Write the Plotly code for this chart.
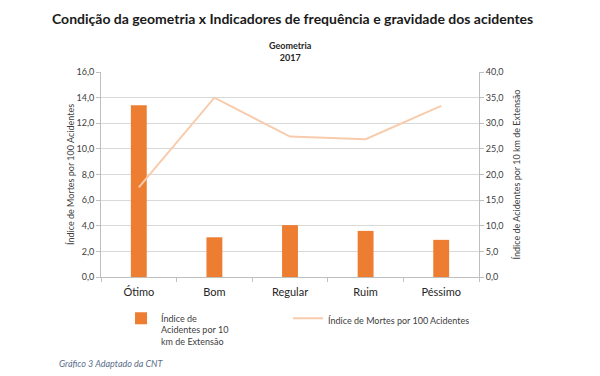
import plotly.graph_objects as go

categories = ["Ótimo", "Bom", "Regular", "Ruim", "Péssimo"]
bar_values = [13.4, 3.1, 4.05, 3.6, 2.9]
line_values = [17.5, 35.0, 27.4, 26.9, 33.4]

bar_name = "Índice de<br>Acidentes por 10<br>km de Extensão"
line_name = "Índice de Mortes por 100 Acidentes"
left_title = "Índice de Mortes por 100 Acidentes"
right_title = "Índice de Acidentes por 10 km de Extensão"

FONT = "Lato"
tick_col = "#404040"

fig = go.Figure()
fig.add_trace(go.Bar(x=categories, y=bar_values, name=bar_name,
                     marker=dict(color="#ED7D31", line=dict(width=0)),
                     yaxis="y", legend="legend"))
fig.add_trace(go.Scatter(x=categories, y=line_values, name=line_name,
                         mode="lines", line=dict(color="#F8CBAD", width=2),
                         yaxis="y2", legend="legend2"))

fig.update_layout(
    width=592, height=368,
    margin=dict(l=93, r=121, t=64, b=99, autoexpand=False),
    paper_bgcolor="white", plot_bgcolor="white",
    separators=",.",
    bargap=0.79,
    font=dict(family=FONT, size=9, color=tick_col),
    xaxis=dict(showline=True, linecolor="#BFBFBF", linewidth=1,
               ticks="outside", ticklen=4, tickcolor="#BFBFBF",
               tickson="boundaries", ticklabelstandoff=5,
               tickfont=dict(size=11, color="#262626")),
    yaxis=dict(range=[0, 16], dtick=2, tickformat=".1f",
               showline=True, linecolor="#BFBFBF", linewidth=1,
               ticks="outside", ticklen=4, tickcolor="#BFBFBF",
               gridcolor="#D9D9D9", gridwidth=1, zeroline=False,
               tickfont=dict(size=9, color=tick_col),
               title=dict(text=left_title, font=dict(size=9, color=tick_col), standoff=0)),
    yaxis2=dict(range=[0, 40], dtick=5, tickformat=".1f", overlaying="y", side="right",
                showline=True, linecolor="#BFBFBF", linewidth=1,
                ticks="outside", ticklen=4, tickcolor="#BFBFBF",
                showgrid=False, zeroline=False,
                tickfont=dict(size=9, color=tick_col),
                title=dict(text=right_title, font=dict(size=9, color=tick_col), standoff=11)),
    showlegend=True,
    legend=dict(orientation="h", x=0.053, y=-0.141, xanchor="left", yanchor="top",
                valign="top", font=dict(size=9, color=tick_col), bgcolor="rgba(0,0,0,0)"),
    legend2=dict(orientation="h", x=0.495, y=-0.141, xanchor="left", yanchor="top",
                 valign="top", font=dict(size=9, color=tick_col), bgcolor="rgba(0,0,0,0)"),
    annotations=[
        dict(text="<b>Condição da geometria x Indicadores de frequência e gravidade dos acidentes</b>",
             xref="paper", yref="paper", x=-0.135, y=1.31, xanchor="left", yanchor="top",
             showarrow=False, font=dict(size=14, color="#1a1a1a", family=FONT)),
        dict(text="<b>Geometria</b><br><b>2017</b>",
             xref="paper", yref="paper", x=0.5, y=1.035, xanchor="center", yanchor="bottom",
             showarrow=False, font=dict(size=9, color="#262626", family=FONT)),
        dict(text="<i>Gráfico 3 Adaptado da CNT</i>",
             xref="paper", yref="paper", x=-0.117, y=-0.424, xanchor="left", yanchor="middle",
             showarrow=False, font=dict(size=9, color="#5B6E8C", family=FONT)),
    ],
)

fig.write_html("out.html")
